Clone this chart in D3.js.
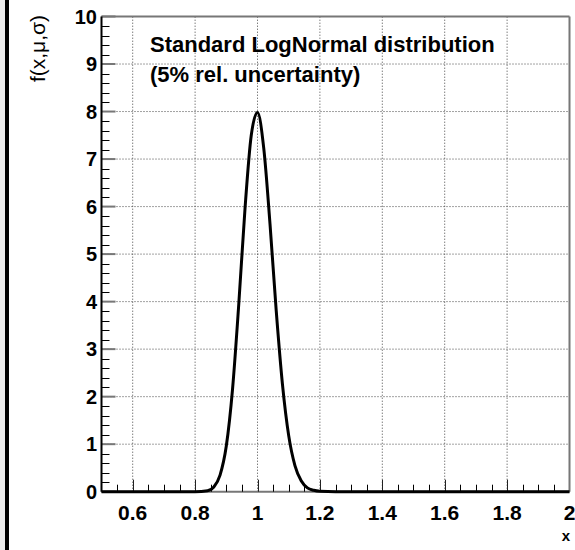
<!DOCTYPE html>
<html>
<head>
<meta charset="utf-8">
<script src="https://cdn.jsdelivr.net/npm/d3@7"></script>
<style>
  body { margin: 0; background: #fff; }
  text { font-family: "Liberation Sans", Arial, sans-serif; }
</style>
</head>
<body>
<div id="chart"></div>
<script>
// values
var xs = [0.5, 0.8, 0.84, 0.86, 0.88, 0.9, 0.92, 0.94, 0.96, 0.98, 1.0, 1.02, 1.04, 1.06, 1.08, 1.1, 1.12, 1.14, 1.16, 1.18, 1.2, 1.25, 2.0];
var ys = [0, 0, 0.02, 0.1, 0.35, 0.96, 2.16, 3.95, 5.96, 7.5, 7.98, 7.23, 5.64, 3.81, 2.26, 1.18, 0.55, 0.23, 0.08, 0.03, 0.01, 0, 0];
var xTicks = [0.6, 0.8, 1, 1.2, 1.4, 1.6, 1.8, 2];
var yTicks = [0, 1, 2, 3, 4, 5, 6, 7, 8, 9, 10];
var titleLines = ["Standard LogNormal distribution", "(5% rel. uncertainty)"];

var W = 575, H = 550;
var svg = d3.select("#chart").append("svg")
    .attr("width", W).attr("height", H);

// left strip like the original canvas edge
svg.append("rect").attr("x", 0).attr("y", 0).attr("width", 5).attr("height", H).attr("fill", "#ececec");
svg.append("rect").attr("x", 5).attr("y", 0).attr("width", 4).attr("height", H).attr("fill", "#000");

var x = d3.scaleLinear().domain([0.5, 2]).range([101.5, 569.5]);
var y = d3.scaleLinear().domain([0, 10]).range([491.7, 16.5]);

// grid
svg.selectAll(".vgrid").data(xTicks.filter(function(d){ return d < 2; }))
  .enter().append("line")
    .attr("x1", function(d){ return x(d); }).attr("x2", function(d){ return x(d); })
    .attr("y1", y(0)).attr("y2", y(10))
    .attr("stroke", "#444").attr("stroke-width", 1).attr("stroke-dasharray", "1,2");
svg.selectAll(".hgrid").data(yTicks.filter(function(d){ return d > 0 && d < 10; }))
  .enter().append("line")
    .attr("x1", x(0.5)).attr("x2", x(2))
    .attr("y1", function(d){ return y(d); }).attr("y2", function(d){ return y(d); })
    .attr("stroke", "#444").attr("stroke-width", 1).attr("stroke-dasharray", "1,2");

// frame
svg.append("line").attr("x1", x(0.5)).attr("x2", x(2)).attr("y1", y(10)).attr("y2", y(10))
  .attr("stroke", "#777").attr("stroke-width", 2);
svg.append("line").attr("x1", x(2)).attr("x2", x(2)).attr("y1", y(10)).attr("y2", y(0))
  .attr("stroke", "#777").attr("stroke-width", 2);
svg.append("line").attr("x1", x(0.5)).attr("x2", x(2)).attr("y1", y(0)).attr("y2", y(0))
  .attr("stroke", "#777").attr("stroke-width", 2);

// y axis ticks
var yMinor = d3.range(0, 10.001, 0.2).filter(function(d){ return Math.abs(d - Math.round(d)) > 1e-6; });
svg.selectAll(".ymin").data(yMinor).enter().append("line")
  .attr("x1", x(0.5)).attr("x2", x(0.5) + 8)
  .attr("y1", function(d){ return Math.round(y(d)) + 0.5; }).attr("y2", function(d){ return Math.round(y(d)) + 0.5; })
  .attr("stroke", "#000").attr("stroke-width", 1);
svg.selectAll(".ymaj").data(yTicks).enter().append("line")
  .attr("x1", x(0.5)).attr("x2", x(0.5) + 14)
  .attr("y1", function(d){ return y(d); }).attr("y2", function(d){ return y(d); })
  .attr("stroke", "#777").attr("stroke-width", 2);
svg.append("line").attr("x1", x(0.5)).attr("x2", x(0.5)).attr("y1", y(10)).attr("y2", y(0))
  .attr("stroke", "#000").attr("stroke-width", 2);

// x axis ticks
var xMinor = d3.range(0.55, 2.0, 0.05).filter(function(d){ return Math.abs(d * 5 - Math.round(d * 5)) > 1e-6; });
svg.selectAll(".xmin").data(xMinor).enter().append("line")
  .attr("x1", function(d){ return Math.round(x(d)) + 0.5; }).attr("x2", function(d){ return Math.round(x(d)) + 0.5; })
  .attr("y1", y(0)).attr("y2", y(0) - 7)
  .attr("stroke", "#000").attr("stroke-width", 1);
svg.selectAll(".xmaj").data(xTicks.filter(function(d){ return d < 2; })).enter().append("line")
  .attr("x1", function(d){ return Math.round(x(d)) + 0.5; }).attr("x2", function(d){ return Math.round(x(d)) + 0.5; })
  .attr("y1", y(0)).attr("y2", y(0) - 12)
  .attr("stroke", "#222").attr("stroke-width", 1);

// tick labels
svg.selectAll(".ylab").data(yTicks).enter().append("text")
  .attr("x", 97).attr("y", function(d){ return y(d) + 7; })
  .attr("text-anchor", "end").attr("font-size", 20).attr("font-weight", "bold")
  .text(function(d){ return d; });
svg.selectAll(".xlab").data(xTicks).enter().append("text")
  .attr("x", function(d){ return x(d); }).attr("y", 520)
  .attr("text-anchor", "middle").attr("font-size", 21).attr("font-weight", "bold")
  .text(function(d){ return d; });

// axis titles
svg.append("text").attr("x", 570).attr("y", 541)
  .attr("text-anchor", "end").attr("font-size", 15).attr("font-weight", "bold")
  .text("x");
svg.append("text")
  .attr("transform", "translate(45,15) rotate(-90)")
  .attr("text-anchor", "end").attr("font-size", 21)
  .text("f(x,\u03bc,\u03c3)");

// curve
var data = xs.map(function(d, i){ return {x: d, y: ys[i]}; });
var line = d3.line()
  .x(function(d){ return x(d.x); })
  .y(function(d){ return y(d.y); })
  .curve(d3.curveMonotoneX);
svg.append("path").datum(data)
  .attr("d", line)
  .attr("fill", "none").attr("stroke", "#000").attr("stroke-width", 3)
  .attr("stroke-linejoin", "round");

// title text
svg.selectAll(".title").data(titleLines).enter().append("text")
  .attr("x", 150).attr("y", function(d, i){ return 52 + i * 30; })
  .attr("font-size", 22).attr("font-weight", "bold")
  .text(function(d){ return d; });
</script>
</body>
</html>
